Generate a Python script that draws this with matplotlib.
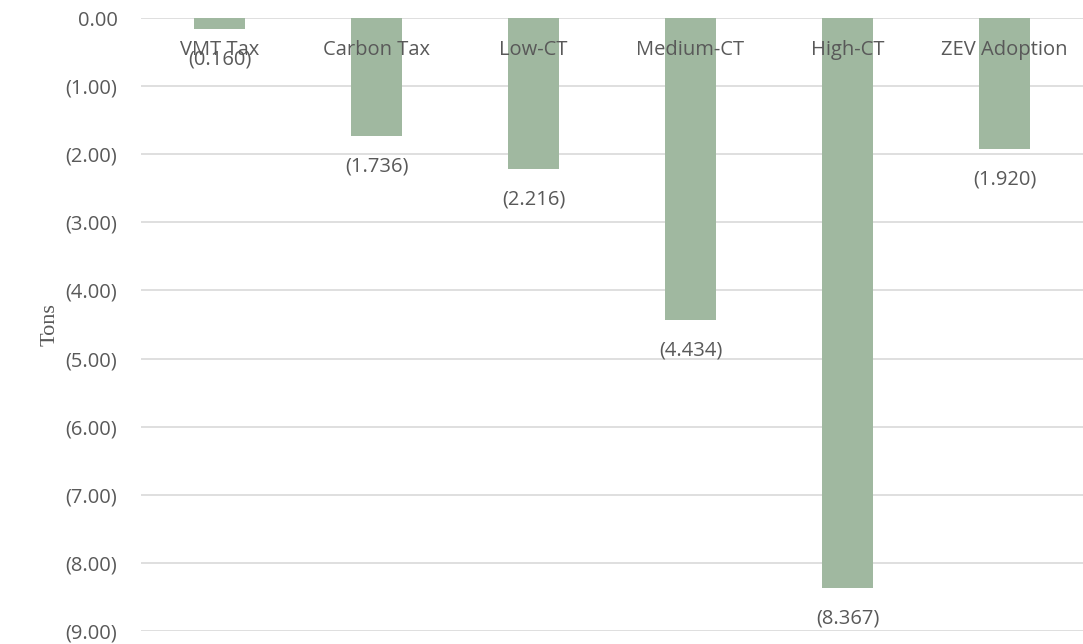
import matplotlib.pyplot as plt
from matplotlib.ticker import FuncFormatter
import numpy as np

# emissions change per scenario, in tons
scenarios = ['VMT Tax', 'Carbon Tax', 'Low-CT', 'Medium-CT', 'High-CT', 'ZEV Adoption']
change = [-0.160, -1.736, -2.216, -4.434, -8.367, -1.920]
yticks = np.arange(0, -10, -1)

bar_color = '#a0b8a0'
text_color = '#595959'

plt.rcParams['font.family'] = ['Open Sans', 'DejaVu Sans']

fig = plt.figure(figsize=(10.83, 6.44), dpi=100)
ax = fig.add_axes([141 / 1083, 1 - 631 / 644, 942 / 1083, 613 / 644])

x = np.arange(len(scenarios))
ax.bar(x, change, width=0.32, color=bar_color, zorder=2)

ax.set_xlim(-0.5, len(scenarios) - 0.5)
ax.set_ylim(-9, 0)
ax.set_yticks(yticks)


def paren(v, pos):
    if v < 0:
        return '(%.2f)' % -v
    return '%.2f' % v


ax.yaxis.set_major_formatter(FuncFormatter(paren))
ax.tick_params(axis='y', length=0, pad=17, labelsize=14.5, labelcolor=text_color)
ax.set_xticks([])
ax.grid(axis='y', color='#d9d9d9', linewidth=1.2, zorder=0)
for s in ax.spines.values():
    s.set_visible(False)

# category names sit just under the zero line
for i, name in enumerate(scenarios):
    ax.text(i, -0.47, name, ha='center', va='center', fontsize=14.5,
            color=text_color, zorder=3)

# value labels under each bar
for i, v in enumerate(change):
    ax.annotate('(%.3f)' % -v, (i, v), xytext=(0, -22), textcoords='offset points',
                ha='center', va='center', fontsize=14.5, color=text_color, zorder=3)

fig.text(50 / 1083, 1 - 325 / 644, 'Tons', rotation=90, ha='center', va='center',
         fontsize=16, color=text_color, family='Liberation Serif')

fig.savefig('out.png', dpi=100)
